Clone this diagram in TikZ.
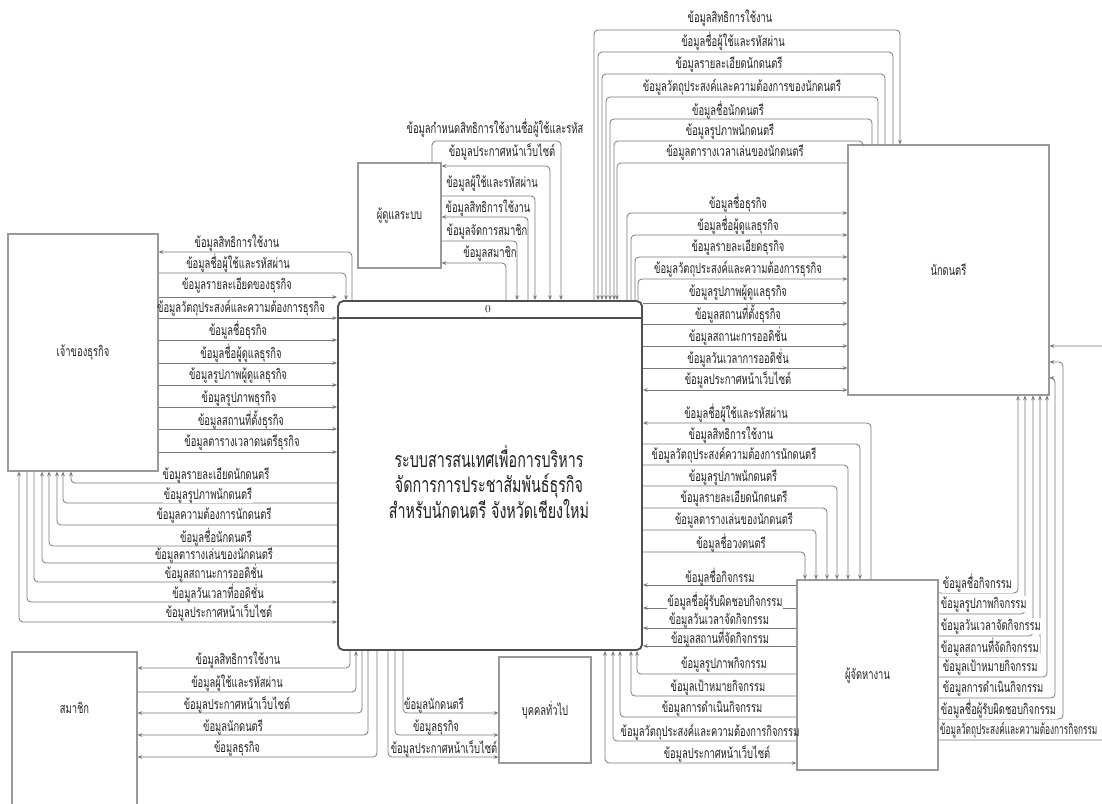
\documentclass[tikz,border=0pt]{standalone}
\usepackage{fontspec}
\newfontfamily\thai[Script=Thai,FakeStretch=0.67]{Loma}
\newfontfamily\thain[Script=Thai,FakeStretch=0.59]{Loma}
\usetikzlibrary{arrows.meta}
\definecolor{linec}{HTML}{7A7A7A}
\definecolor{boxc}{HTML}{9A9A9A}
\definecolor{procc}{HTML}{505050}
\definecolor{txtc}{HTML}{222222}
\begin{document}
\begin{tikzpicture}[x=0.75pt,y=-0.75pt,
  box/.style={draw=boxc, line width=0.8pt, fill=white, inner sep=0pt, font=\thai\fontsize{10.5}{12}\selectfont, text=txtc},
  flow/.style={draw=linec, line width=0.6pt, rounded corners=3pt},
  >={Stealth[length=3.6pt,width=2.8pt]},
  lbl/.style={font=\thai\fontsize{10.5}{11}\selectfont, text=txtc, inner sep=0.5pt},
  wlbl/.style={lbl, fill=white},
]
\useasboundingbox (0,0) rectangle (1102,803);
\clip (0,0) rectangle (1102,803);
\fill[white] (0,0) rectangle (1102,803);

% ---------- nodes ----------
\node[draw=procc, line width=1.4pt, rounded corners=4pt, fill=white, minimum width=228pt, minimum height=261.75pt, inner sep=0pt] (proc) at (490,475.5) {};
\draw[procc, line width=1.2pt] (proc.west |- 0,318) -- (proc.east |- 0,318);
\node[lbl, font=\fontsize{8}{9}\selectfont] (procid) at (488,309.5) {0};
\node[lbl, font=\thai\fontsize{16}{19}\selectfont, align=center] (title) at (489,482) {ระบบสารสนเทศเพื่อการบริหาร\\จัดการการประชาสัมพันธ์ธุรกิจ\\สำหรับนักดนตรี จังหวัดเชียงใหม่};

\node[box, minimum width=62.25pt, minimum height=78.75pt] (admin) at (399.5,215.5) {ผู้ดูแลระบบ};
\node[box, minimum width=112.5pt, minimum height=177.75pt] (owner) at (83,352.5) {เจ้าของธุรกิจ};
\node[box, minimum width=93.75pt, minimum height=120pt] (member) at (74.5,732) {};
\node[lbl] (memberlbl) at (74.5,708) {สมาชิก};
\node[box, minimum width=150.75pt, minimum height=187.5pt] (musician) at (948.5,270) {นักดนตรี};
\node[box, minimum width=105.75pt, minimum height=142.5pt] (agent) at (867.5,675) {ผู้จัดหางาน};
\node[box, minimum width=69pt, minimum height=79.5pt] (public) at (545,710) {บุคคลทั่วไป};

% ---------- A: musician <-> process top ----------
\draw[flow,->] (proc.north -| 594,0) -- (594,30) -- (900,30) -- (musician.north -| 900,0);
\draw[flow,->] (musician.north -| 893,0) -- (893,52) -- (598,52) -- (proc.north -| 598,0);
\draw[flow,->] (musician.north -| 885,0) -- (885,74) -- (602,74) -- (proc.north -| 602,0);
\draw[flow,->] (musician.north -| 878,0) -- (878,97) -- (606,97) -- (proc.north -| 606,0);
\draw[flow,->] (musician.north -| 872,0) -- (872,119) -- (610,119) -- (proc.north -| 610,0);
\draw[flow,->] (musician.north -| 863,0) -- (863,141) -- (614,141) -- (proc.north -| 614,0);
\draw[flow,->] (musician.west |- 0,163) -- (617,163) -- (proc.north -| 617,0);
\node[lbl] (la1) at (730,18) {ข้อมูลสิทธิการใช้งาน};
\node[lbl] (la2) at (733,41) {ข้อมูลชื่อผู้ใช้และรหัสผ่าน};
\node[lbl] (la3) at (729,64) {ข้อมูลรายละเอียดนักดนตรี};
\node[lbl] (la4) at (742,87) {ข้อมูลวัตถุประสงค์และความต้องการของนักดนตรี};
\node[lbl] (la5) at (728,110) {ข้อมูลชื่อนักดนตรี};
\node[lbl] (la6) at (730,131) {ข้อมูลรูปภาพนักดนตรี};
\node[lbl] (la7) at (735,152) {ข้อมูลตารางเวลาเล่นของนักดนตรี};

% ---------- B: process -> musician ----------
\draw[flow,->] (proc.north -| 627,0) -- (627,213) -- (musician.west |- 0,213);
\draw[flow,->] (proc.north -| 631,0) -- (631,235) -- (musician.west |- 0,235);
\draw[flow,->] (proc.north -| 635,0) -- (635,257) -- (musician.west |- 0,257);
\draw[flow,->] (proc.north -| 638,0) -- (638,279) -- (musician.west |- 0,279);
\draw[flow,->] (proc.east |- 0,303) -- (musician.west |- 0,303);
\draw[flow,->] (proc.east |- 0,324) -- (musician.west |- 0,324);
\draw[flow,->] (proc.east |- 0,346) -- (musician.west |- 0,346);
\draw[flow,->] (proc.east |- 0,368) -- (musician.west |- 0,368);
\draw[flow,<->] (proc.east |- 0,390) -- (musician.west |- 0,390);
\node[lbl] (lb1) at (738,203) {ข้อมูลชื่อธุรกิจ};
\node[lbl] (lb2) at (738,225) {ข้อมูลชื่อผู้ดูแลธุรกิจ};
\node[lbl] (lb3) at (738,247) {ข้อมูลรายละเอียดธุรกิจ};
\node[lbl] (lb4) at (738,269) {ข้อมูลวัตถุประสงค์และความต้องการธุรกิจ};
\node[lbl] (lb5) at (738,292) {ข้อมูลรูปภาพผู้ดูแลธุรกิจ};
\node[lbl] (lb6) at (738,314) {ข้อมูลสถานที่ตั้งธุรกิจ};
\node[lbl] (lb7) at (738,336) {ข้อมูลสถานะการออดิชั่น};
\node[lbl] (lb8) at (738,358) {ข้อมูลวันเวลาการออดิชั่น};
\node[lbl] (lb9) at (738,380) {ข้อมูลประกาศหน้าเว็บไซต์};

% ---------- C: process <-> agent top ----------
\draw[flow,->] (agent.north -| 871,0) -- (871,423) -- (proc.east |- 0,423);
\draw[flow,->] (proc.east |- 0,444) -- (860,444) -- (agent.north -| 860,0);
\draw[flow,->] (proc.east |- 0,465) -- (848,465) -- (agent.north -| 848,0);
\draw[flow,->] (proc.east |- 0,486) -- (837,486) -- (agent.north -| 837,0);
\draw[flow,->] (proc.east |- 0,508) -- (827,508) -- (agent.north -| 827,0);
\draw[flow,->] (proc.east |- 0,530) -- (816,530) -- (agent.north -| 816,0);
\draw[flow,->] (proc.east |- 0,552) -- (805,552) -- (agent.north -| 805,0);
\node[lbl] (lc1) at (736,413) {ข้อมูลชื่อผู้ใช้และรหัสผ่าน};
\node[lbl] (lc2) at (731,435) {ข้อมูลสิทธิการใช้งาน};
\node[lbl] (lc3) at (734,455) {ข้อมูลวัตถุประสงค์ความต้องการนักดนตรี};
\node[lbl] (lc4) at (733,477) {ข้อมูลรูปภาพนักดนตรี};
\node[lbl] (lc5) at (734,498) {ข้อมูลรายละเอียดนักดนตรี};
\node[lbl] (lc6) at (734,520) {ข้อมูลตารางเล่นของนักดนตรี};
\node[lbl] (lc7) at (731,543) {ข้อมูลชื่อวงดนตรี};

% ---------- D: agent -> process ----------
\draw[flow,->] (agent.west |- 0,585) -- (proc.east |- 0,585);
\draw[flow,->] (agent.west |- 0,608) -- (proc.east |- 0,608);
\draw[flow,->] (agent.west |- 0,628) -- (proc.east |- 0,628);
\draw[flow,->] (agent.west |- 0,646) -- (proc.east |- 0,646);
\draw[flow,->] (agent.west |- 0,674) -- (637,674) -- (proc.south -| 637,0);
\draw[flow,->] (agent.west |- 0,696) -- (631,696) -- (proc.south -| 631,0);
\draw[flow,->] (agent.west |- 0,717) -- (620,717) -- (proc.south -| 620,0);
\draw[flow,->] (agent.west |- 0,741) -- (613,741) -- (proc.south -| 613,0);
\draw[flow,<->] (agent.west |- 0,763) -- (605,763) -- (proc.south -| 605,0);
\node[lbl] (ld1) at (720,577) {ข้อมูลชื่อกิจกรรม};
\node[wlbl] (ld2) at (725,601) {ข้อมูลชื่อผู้รับผิดชอบกิจกรรม};
\node[lbl] (ld3) at (719,620) {ข้อมูลวันเวลาจัดกิจกรรม};
\node[lbl] (ld4) at (720,638) {ข้อมูลสถานที่จัดกิจกรรม};
\node[lbl] (ld5) at (724,664) {ข้อมูลรูปภาพกิจกรรม};
\node[lbl] (ld6) at (718,687) {ข้อมูลเป้าหมายกิจกรรม};
\node[lbl] (ld7) at (712,708) {ข้อมูลการดำเนินกิจกรรม};
\node[lbl] (ld8) at (710,732) {ข้อมูลวัตถุประสงค์และความต้องการกิจกรรม};
\node[lbl] (ld9) at (717,754) {ข้อมูลประกาศหน้าเว็บไซต์};

% ---------- E: agent right -> musician ----------
\draw[flow,->] (agent.east |- 0,593) -- (1018,593) -- (musician.south -| 1018,0);
\draw[flow,->] (agent.east |- 0,614) -- (1025,614) -- (musician.south -| 1025,0);
\draw[flow,->] (agent.east |- 0,636) -- (1033,636) -- (musician.south -| 1033,0);
\draw[flow,->] (agent.east |- 0,657) -- (1040,657) -- (musician.south -| 1040,0);
\draw[flow,->] (agent.east |- 0,677) -- (1047,677) -- (musician.south -| 1047,0);
\draw[flow,->] (agent.east |- 0,698) -- (1055,698) -- (1055,378) -- (musician.east |- 0,378);
\draw[flow,->] (agent.east |- 0,719) -- (1063,719) -- (1063,362) -- (musician.east |- 0,362);
\draw[flow,->] (agent.east |- 0,740) -- (1115,740) -- (1115,346) -- (musician.east |- 0,346);
\node[wlbl, anchor=west] (le1) at (942,583) {ข้อมูลชื่อกิจกรรม};
\node[wlbl, anchor=west] (le2) at (940,604) {ข้อมูลรูปภาพกิจกรรม};
\node[wlbl, anchor=west] (le3) at (940,626) {ข้อมูลวันเวลาจัดกิจกรรม};
\node[wlbl, anchor=west] (le4) at (940,647) {ข้อมูลสถานที่จัดกิจกรรม};
\node[wlbl, anchor=west] (le5) at (942,667) {ข้อมูลเป้าหมายกิจกรรม};
\node[wlbl, anchor=west] (le6) at (942,688) {ข้อมูลการดำเนินกิจกรรม};
\node[wlbl, anchor=west] (le7) at (940,709) {ข้อมูลชื่อผู้รับผิดชอบกิจกรรม};
\node[wlbl, anchor=west, font=\thain\fontsize{10.5}{11}\selectfont] (le8) at (939,730) {ข้อมูลวัตถุประสงค์และความต้องการกิจกรรม};

% ---------- F: owner <-> process (upper) ----------
\draw[flow,->] (proc.north -| 352,0) -- (352,252) -- (owner.east |- 0,252);
\draw[flow,->] (owner.east |- 0,273) -- (346,273) -- (proc.north -| 346,0);
\draw[flow,->] (owner.east |- 0,297) -- (proc.west |- 0,297);
\draw[flow,->] (owner.east |- 0,318) -- (proc.west |- 0,318);
\draw[flow,->] (owner.east |- 0,340) -- (proc.west |- 0,340);
\draw[flow,->] (owner.east |- 0,363) -- (proc.west |- 0,363);
\draw[flow,->] (owner.east |- 0,385) -- (proc.west |- 0,385);
\draw[flow,->] (owner.east |- 0,407) -- (proc.west |- 0,407);
\draw[flow,->] (owner.east |- 0,429) -- (proc.west |- 0,429);
\draw[flow,->] (owner.east |- 0,452) -- (proc.west |- 0,452);
\node[lbl] (lf1) at (237,243) {ข้อมูลสิทธิการใช้งาน};
\node[lbl] (lf2) at (238,263) {ข้อมูลชื่อผู้ใช้และรหัสผ่าน};
\node[lbl] (lf3) at (237,285) {ข้อมูลรายละเอียดของธุรกิจ};
\node[lbl] (lf4) at (241,308) {ข้อมูลวัตถุประสงค์และความต้องการธุรกิจ};
\node[lbl] (lf5) at (238,330) {ข้อมูลชื่อธุรกิจ};
\node[lbl] (lf6) at (241,353) {ข้อมูลชื่อผู้ดูแลธุรกิจ};
\node[lbl] (lf7) at (238,375) {ข้อมูลรูปภาพผู้ดูแลธุรกิจ};
\node[lbl] (lf8) at (239,398) {ข้อมูลรูปภาพธุรกิจ};
\node[lbl] (lf9) at (241,420) {ข้อมูลสถานที่ตั้งธุรกิจ};
\node[lbl] (lf10) at (242,442) {ข้อมูลตารางเวลาดนตรีธุรกิจ};

% ---------- G: process <-> owner bottom ----------
\draw[flow,->] (proc.west |- 0,483) -- (71,483) -- (owner.south -| 71,0);
\draw[flow,->] (proc.west |- 0,503) -- (63,503) -- (owner.south -| 63,0);
\draw[flow,->] (proc.west |- 0,525) -- (57,525) -- (owner.south -| 57,0);
\draw[flow,->] (proc.west |- 0,546) -- (49,546) -- (owner.south -| 49,0);
\draw[flow,->] (proc.west |- 0,563) -- (42,563) -- (owner.south -| 42,0);
\draw[flow,->] (owner.south -| 34,0) -- (34,582) -- (proc.west |- 0,582);
\draw[flow,->] (owner.south -| 27,0) -- (27,602) -- (proc.west |- 0,602);
\draw[flow,<->] (owner.south -| 19,0) -- (19,622) -- (proc.west |- 0,622);
\node[lbl] (lg1) at (216,475) {ข้อมูลรายละเอียดนักดนตรี};
\node[wlbl] (lg2) at (208,495) {ข้อมูลรูปภาพนักดนตรี};
\node[lbl] (lg3) at (214,515) {ข้อมูลความต้องการนักดนตรี};
\node[lbl] (lg4) at (216,537) {ข้อมูลชื่อนักดนตรี};
\node[lbl] (lg5) at (214,555) {ข้อมูลตารางเล่นของนักดนตรี};
\node[lbl] (lg6) at (214,573) {ข้อมูลสถานะการออดิชั่น};
\node[lbl] (lg7) at (218,593) {ข้อมูลวันเวลาที่ออดิชั่น};
\node[lbl] (lg8) at (219,613) {ข้อมูลประกาศหน้าเว็บไซต์};

% ---------- H: process <-> member ----------
\draw[flow,->] (proc.south -| 350,0) -- (350,668) -- (member.east |- 0,668);
\draw[flow,->] (member.east |- 0,692) -- (356,692) -- (proc.south -| 356,0);
\draw[flow,->] (proc.south -| 362,0) -- (362,713) -- (member.east |- 0,713);
\draw[flow,->] (proc.south -| 368,0) -- (368,735) -- (member.east |- 0,735);
\draw[flow,->] (proc.south -| 377,0) -- (377,757) -- (member.east |- 0,757);
\node[lbl] (lh1) at (238,660) {ข้อมูลสิทธิการใช้งาน};
\node[lbl] (lh2) at (237,683) {ข้อมูลผู้ใช้และรหัสผ่าน};
\node[lbl] (lh3) at (237,705) {ข้อมูลประกาศหน้าเว็บไซต์};
\node[lbl] (lh4) at (233,727) {ข้อมูลนักดนตรี};
\node[lbl] (lh5) at (237,748) {ข้อมูลธุรกิจ};

% ---------- I: process -> public ----------
\draw[flow,->] (proc.south -| 403,0) -- (403,713) -- (public.west |- 0,713);
\draw[flow,->] (proc.south -| 395,0) -- (395,735) -- (public.west |- 0,735);
\draw[flow,->] (proc.south -| 388,0) -- (388,757) -- (public.west |- 0,757);
\node[lbl] (li1) at (434,705) {ข้อมูลนักดนตรี};
\node[lbl] (li2) at (436,727) {ข้อมูลธุรกิจ};
\node[lbl] (li3) at (444,749) {ข้อมูลประกาศหน้าเว็บไซต์};

% ---------- J: admin <-> process ----------
\draw[flow,->] (admin.north -| 432,0) -- (432,141) -- (561,141) -- (proc.north -| 561,0);
\draw[flow,<->] (admin.east |- 0,166) -- (550,166) -- (proc.north -| 550,0);
\draw[flow,->] (admin.east |- 0,196) -- (535,196) -- (proc.north -| 535,0);
\draw[flow,->] (proc.north -| 528,0) -- (528,217) -- (admin.east |- 0,217);
\draw[flow,->] (admin.east |- 0,241) -- (517,241) -- (proc.north -| 517,0);
\draw[flow,->] (proc.north -| 506,0) -- (506,263) -- (admin.east |- 0,263);
\node[lbl] (lj1) at (495,128) {ข้อมูลกำหนดสิทธิการใช้งานชื่อผู้ใช้และรหัส};
\node[lbl] (lj2) at (502,152) {ข้อมูลประกาศหน้าเว็บไซต์};
\node[lbl] (lj3) at (492,183) {ข้อมูลผู้ใช้และรหัสผ่าน};
\node[lbl] (lj4) at (488,208) {ข้อมูลสิทธิการใช้งาน};
\node[lbl] (lj5) at (487,231) {ข้อมูลจัดการสมาชิก};
\node[lbl] (lj6) at (490,253) {ข้อมูลสมาชิก};
\end{tikzpicture}
\end{document}
